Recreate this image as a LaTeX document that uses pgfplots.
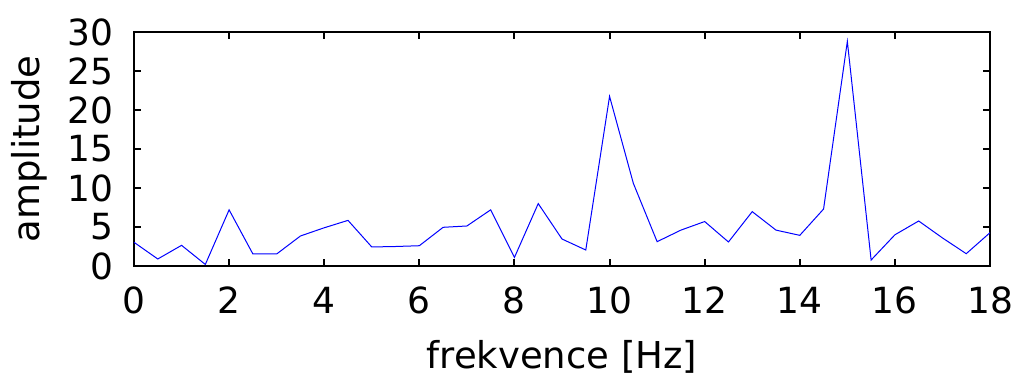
\documentclass[border=0pt]{standalone}
\usepackage{pgfplots}
\pgfplotsset{compat=1.18}
\usepackage{fontspec}
\setmainfont{DejaVu Sans}
\begin{document}
\begin{tikzpicture}
\begin{axis}[
  scale only axis,
  width=428pt, height=117pt,
  xmin=0, xmax=18, ymin=0, ymax=30,
  xtick={0,2,...,18}, ytick={0,5,...,30},
  tick align=inside,
  major tick length=3.5pt,
  tick style={black, line width=1pt},
  axis line style={black, line width=1pt},
  /pgf/number format/assume math mode=true,
  tick label style={font=\fontsize{18}{22}\selectfont},
  label style={font=\fontsize{18.5}{22}\selectfont},
  xlabel={frekvence [Hz]},
  ylabel={amplitude},
  xlabel style={yshift=-6pt},
  ylabel style={yshift=3pt},
  xticklabel style={yshift=-7pt},
  yticklabel style={xshift=-7pt},
]
\addplot[blue, line width=0.5pt, mark=none] coordinates {
(0,3.04) (0.5,0.9) (1,2.65) (1.5,0.2) (2,7.2) (2.5,1.54) (3,1.54) (3.5,3.85)
(4,4.9) (4.5,5.85) (5,2.44) (5.5,2.5) (6,2.6) (6.5,4.96) (7,5.13) (7.5,7.2)
(8,1.1) (8.5,8.0) (9,3.46) (9.5,2.05) (10,21.75) (10.5,10.6) (11,3.12) (11.5,4.6)
(12,5.7) (12.5,3.08) (13,6.97) (13.5,4.6) (14,3.93) (14.5,7.3) (15,28.8) (15.5,0.77)
(16,4.0) (16.5,5.77) (17,3.6) (17.5,1.58) (18,4.27)
};
\end{axis}
\pgfresetboundingbox
\path ([shift={(-67pt,-54pt)}]current axis.south west) rectangle ([shift={(12.5pt,16pt)}]current axis.north east);
\end{tikzpicture}
\end{document}
